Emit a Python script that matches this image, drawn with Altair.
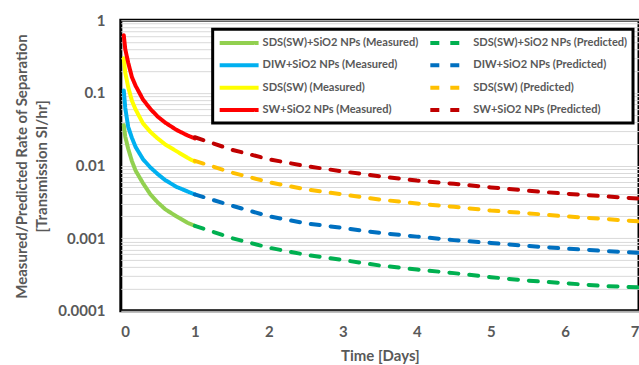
import altair as alt
import pandas as pd

# ---- data ----
t_meas = [0.04, 0.06, 0.1, 0.15, 0.2, 0.3, 0.4, 0.5, 0.6, 0.75, 0.9, 1.0]
t_pred = [1.0, 1.5, 2.0, 2.5, 3.0, 3.5, 4.0, 4.5, 5.0, 5.5, 6.0, 6.5, 7.0]

green_meas = [0.036, 0.025, 0.017, 0.0115, 0.0085, 0.0057, 0.0040, 0.0031, 0.0025, 0.0020, 0.00163, 0.00148]
blue_meas = [0.108, 0.062, 0.034, 0.024, 0.018, 0.0122, 0.0094, 0.0076, 0.0063, 0.0051, 0.0044, 0.0040]
yellow_meas = [0.30, 0.19, 0.12, 0.078, 0.059, 0.038, 0.029, 0.0235, 0.0195, 0.0158, 0.0128, 0.0113]
red_meas = [0.62, 0.40, 0.26, 0.165, 0.125, 0.081, 0.060, 0.047, 0.039, 0.031, 0.026, 0.0236]

green_pred = [0.00148, 0.00100, 0.00074, 0.00059, 0.00050, 0.00042, 0.00037, 0.00033, 0.00029, 0.00026, 0.00024, 0.00022, 0.00021]
blue_pred = [0.0040, 0.0028, 0.0020, 0.0016, 0.00138, 0.00118, 0.00105, 0.00094, 0.00086, 0.00078, 0.00072, 0.00067, 0.00063]
yellow_pred = [0.0116, 0.0080, 0.0059, 0.0047, 0.0040, 0.0034, 0.0030, 0.0027, 0.0024, 0.0022, 0.0020, 0.00185, 0.0017]
red_pred = [0.0245, 0.0165, 0.0122, 0.0098, 0.0083, 0.0071, 0.0062, 0.0056, 0.0050, 0.0045, 0.0041, 0.0038, 0.0035]

# legend order (filled column by column: measured column, then predicted column)
series_names = [
    "SDS(SW)+SiO2 NPs (Measured)", "DIW+SiO2 NPs (Measured)",
    "SDS(SW) (Measured)", "SW+SiO2 NPs (Measured)",
    "SDS(SW)+SiO2 NPs (Predicted)", "DIW+SiO2 NPs (Predicted)",
    "SDS(SW) (Predicted)", "SW+SiO2 NPs (Predicted)",
]
series_colors = ["#92D050", "#00B0F0", "#FFFF00", "#FF0000",
                 "#00B050", "#0070C0", "#FFC000", "#C00000"]
x_ticks = [0, 1, 2, 3, 4, 5, 6, 7]

groups = [
    (series_names[0], "M", t_meas, green_meas),
    (series_names[1], "M", t_meas, blue_meas),
    (series_names[2], "M", t_meas, yellow_meas),
    (series_names[3], "M", t_meas, red_meas),
    (series_names[4], "P", t_pred, green_pred),
    (series_names[5], "P", t_pred, blue_pred),
    (series_names[6], "P", t_pred, yellow_pred),
    (series_names[7], "P", t_pred, red_pred),
]
rows = []
for name, kind, ts, vs in groups:
    for t, v in zip(ts, vs):
        rows.append({"t": t, "v": v, "series": name, "kind": kind})
df = pd.DataFrame(rows)

y_grid = [m * 10.0 ** e for e in range(-4, 0) for m in range(1, 10)] + [1.0]

dash_range = [[1, 0] if "Measured" in n else [9, 11] for n in series_names]

TXT = "#595959"
FONT = "Lato"

legend = alt.Legend(title=None, orient="none", legendX=92, legendY=9, columns=2)

x_enc = alt.X("t:Q", scale=alt.Scale(domain=[0, 7], nice=False),
              axis=alt.Axis(values=x_ticks, grid=False, ticks=False, domain=False,
                            labelPadding=14, title="Time [Days]", titlePadding=9))
y_enc = alt.Y("v:Q", scale=alt.Scale(type="log", domain=[0.0001, 1], nice=False),
              axis=alt.Axis(values=y_grid, grid=True, gridColor="#d9d9d9", gridWidth=1,
                            ticks=False, domain=False, labelOverlap=False,
                            labelPadding=16, format="~g",
                            labelExpr="abs(log(datum.value)/LN10 - round(log(datum.value)/LN10)) < 0.001 ? datum.label : ''",
                            title=["Measured/Predicted Rate of Separation", "[Transmission SI/hr]"],
                            titleAngle=-90, titleX=-99, titleY=146,
                            titleAlign="center", titleBaseline="middle", titleLineHeight=20))
color_enc = alt.Color("series:N", scale=alt.Scale(domain=series_names, range=series_colors), legend=legend)
dash_enc = alt.StrokeDash("series:N", scale=alt.Scale(domain=series_names, range=dash_range), legend=legend)

base = alt.Chart(df)
meas = base.transform_filter(alt.datum.kind == "M").mark_line(
    strokeWidth=4, strokeCap="round").encode(x=x_enc, y=y_enc, color=color_enc, strokeDash=dash_enc)
pred = base.transform_filter(alt.datum.kind == "P").mark_line(
    strokeWidth=4, strokeCap="round").encode(x=x_enc, y=y_enc, color=color_enc, strokeDash=dash_enc)

chart = alt.layer(meas, pred).properties(
    width=519, height=291,
    autosize=alt.AutoSizeParams(type="none"),
    padding={"left": 121, "top": 20, "right": 0, "bottom": 54},
).configure_view(
    stroke="black", strokeWidth=3
).configure_axis(
    labelFont=FONT, labelFontSize=15, labelFontWeight="bold", labelColor=TXT,
    titleFont=FONT, titleFontSize=15, titleFontWeight="bold", titleColor=TXT,
).configure_legend(
    labelFont=FONT, labelFontSize=11.1, labelFontWeight="bold", labelColor=TXT,
    symbolType="M-1,0H5", symbolSize=169, symbolStrokeWidth=4,
    padding=5, rowPadding=5.5, columnPadding=4, labelOffset=28, labelLimit=300,
    strokeColor="black", strokeWidth=3, fillColor="white",
)

chart.save("out.html", embed_options={"renderer": "svg", "actions": False})
